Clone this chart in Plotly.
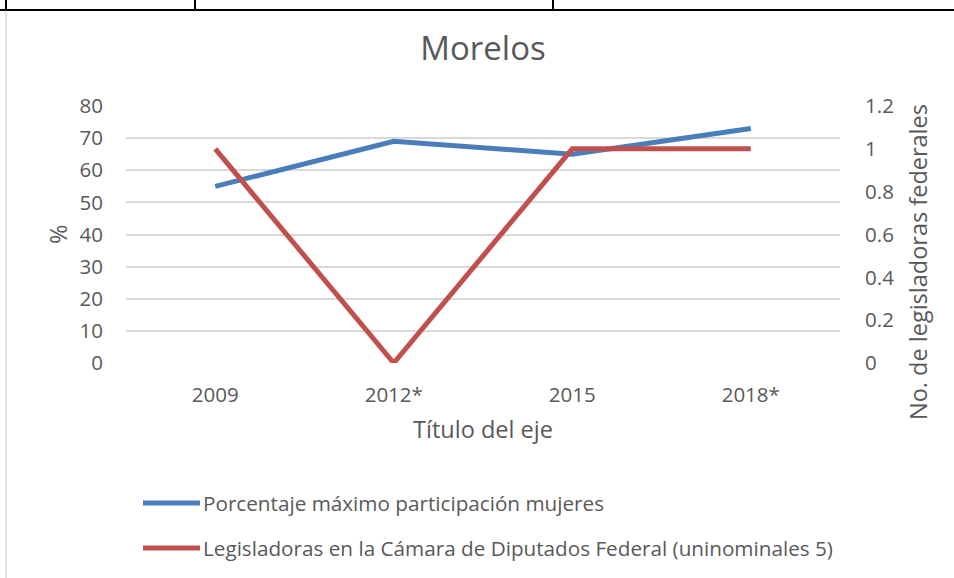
import plotly.graph_objects as go

years = ["2009", "2012*", "2015", "2018*"]
pct_mujeres = [55, 69, 65, 73]
legisladoras = [1, 0, 1, 1]
series_names = ["Porcentaje máximo participación mujeres",
                "Legisladoras en la Cámara de Diputados Federal (uninominales 5)"]
colors = ["#4a7ebb", "#c0504d"]
left_ticks = [0, 10, 20, 30, 40, 50, 60, 70, 80]
right_ticks = [0, 0.2, 0.4, 0.6, 0.8, 1, 1.2]
right_labels = ["0", "0.2", "0.4", "0.6", "0.8", "1", "1.2"]

FONT = "Open Sans, sans-serif"
GREY = "#595959"

fig = go.Figure()
fig.add_trace(go.Scatter(x=years, y=pct_mujeres, mode="lines", name=series_names[0],
                         line=dict(color=colors[0], width=5), yaxis="y", showlegend=False))
fig.add_trace(go.Scatter(x=years, y=legisladoras, mode="lines", name=series_names[1],
                         line=dict(color=colors[1], width=5), yaxis="y2", showlegend=False))

W, H = 954, 578
ml, mr, mt, mb = 126, 114, 106, 215
pw, ph = W - ml - mr, H - mt - mb

def px(x):
    return (x - ml) / pw

def py(y):
    return (H - mb - y) / ph

shapes = []
annotations = []
# legend drawn manually
for i, (nm, c) in enumerate(zip(series_names, colors)):
    yy = 503 + i * 45
    shapes.append(dict(type="line", xref="paper", yref="paper", x0=px(143), x1=px(200),
                       y0=py(yy), y1=py(yy), line=dict(color=c, width=5)))
    annotations.append(dict(text=nm, xref="paper", yref="paper", x=px(201), y=py(yy),
                            xanchor="left", yanchor="middle", showarrow=False,
                            font=dict(family=FONT, size=20.7, color=GREY)))
# right axis title
annotations.append(dict(text="No. de legisladoras federales", xref="paper", yref="paper",
                        x=px(918), y=py(262), xanchor="center", yanchor="middle", textangle=-90,
                        showarrow=False, font=dict(family=FONT, size=23.5, color=GREY)))
# left axis title
annotations.append(dict(text="%", xref="paper", yref="paper",
                        x=px(58), y=py(235), xanchor="center", yanchor="middle", textangle=-90,
                        showarrow=False, font=dict(family=FONT, size=23.5, color=GREY)))
# table borders at top
shapes.append(dict(type="line", xref="paper", yref="paper", x0=px(0), x1=px(954),
                   y0=py(10), y1=py(10), line=dict(color="black", width=2)))
for xv in [6, 195, 553]:
    shapes.append(dict(type="line", xref="paper", yref="paper", x0=px(xv), x1=px(xv),
                       y0=py(0), y1=py(10), line=dict(color="black", width=2)))
# chart frame left border
shapes.append(dict(type="line", xref="paper", yref="paper", x0=px(6), x1=px(6),
                   y0=py(12), y1=py(578), line=dict(color="#d9d9d9", width=1.5)))

fig.update_layout(
    width=W, height=H,
    margin=dict(l=ml, r=mr, t=mt, b=mb),
    paper_bgcolor="white", plot_bgcolor="white",
    font=dict(family=FONT, color=GREY, size=20),
    title=dict(text="Morelos", x=(ml + pw / 2) / W, xanchor="center", y=1 - 48 / H, yanchor="middle",
               font=dict(size=33, color=GREY, family=FONT)),
    xaxis=dict(type="category", range=[-0.5, 3.5], showgrid=False, zeroline=False,
               showline=False, ticks="outside", ticklen=13, tickcolor="rgba(0,0,0,0)",
               tickfont=dict(size=20.5, color=GREY),
               title=dict(text="Título del eje", font=dict(size=23.5, color=GREY), standoff=14)),
    yaxis=dict(range=[0, 80], tickvals=left_ticks, showgrid=True, gridcolor="#d9d9d9", gridwidth=1.5,
               zeroline=False, showline=False, ticks="outside", ticklen=18, tickcolor="rgba(0,0,0,0)",
               tickfont=dict(size=20.5, color=GREY)),
    yaxis2=dict(range=[0, 1.2], tickvals=right_ticks, ticktext=right_labels, overlaying="y", side="right",
                showgrid=False, zeroline=False, showline=False, ticks="outside", ticklen=20,
                tickcolor="rgba(0,0,0,0)", tickfont=dict(size=20.5, color=GREY)),
    shapes=shapes, annotations=annotations,
)

fig.write_html("out.html", config={"displayModeBar": False},
               post_script="document.body.style.margin='0px';document.body.style.overflow='hidden';")
